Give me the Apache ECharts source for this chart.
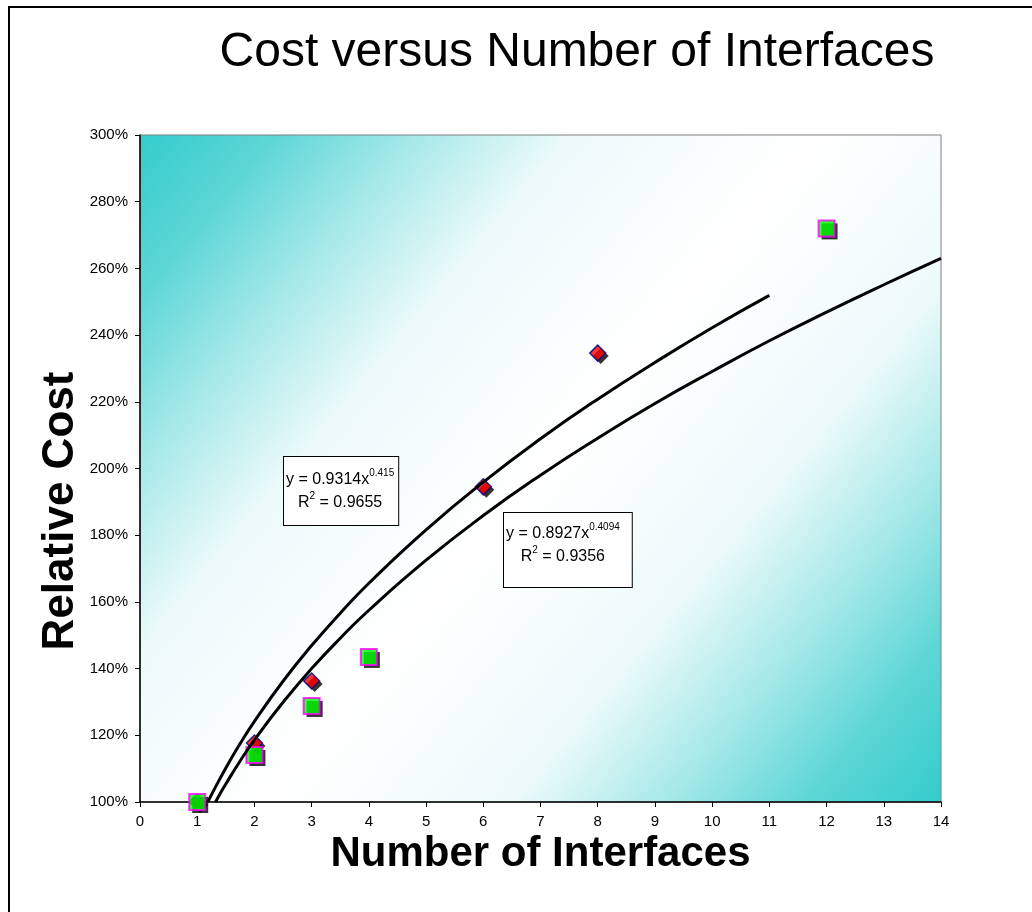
<!DOCTYPE html>
<html>
<head>
<meta charset="utf-8">
<script src="https://cdn.jsdelivr.net/npm/echarts@6/dist/echarts.min.js"></script>
<style>
html,body{margin:0;padding:0;background:#fff;}
#chart{width:1032px;height:912px;}
</style>
</head>
<body>
<div id="chart"></div>
<script>
// Data
var diamondX = [1, 2, 3, 6, 8];
var diamondY = [100, 117.7, 136.3, 194.5, 234.6];
var squareX = [1, 2, 3, 4, 12];
var squareY = [100, 114.1, 128.8, 143.5, 272];
// Trend curves
var trend1X = [1.19, 1.25, 1.5, 1.75, 2, 2.5, 3, 3.5, 4, 5, 6, 7, 8, 9, 10, 11];
var trend1Y = [100.1, 102.2, 110.2, 117.5, 124.2, 136.2, 146.9, 156.6, 165.6, 181.6, 195.9, 208.9, 220.8, 231.8, 242.2, 251.9];
var trend2X = [1.32, 1.4, 1.5, 1.75, 2, 2.5, 3, 3.5, 4, 5, 6, 7, 8, 9, 10, 11, 12, 13, 14];
var trend2Y = [100, 102.5, 105.4, 112.3, 118.6, 129.9, 140.0, 149.1, 157.5, 172.5, 185.9, 198.0, 209.1, 219.5, 229.1, 238.3, 246.9, 255.1, 263.0];
var xTicks = [0, 1, 2, 3, 4, 5, 6, 7, 8, 9, 10, 11, 12, 13, 14];
var yTicks = [100, 120, 140, 160, 180, 200, 220, 240, 260, 280, 300];
var titleText = 'Cost versus Number of Interfaces';
var xName = 'Number of Interfaces';
var yName = 'Relative Cost';
var eq1 = ['y = 0.9314x', '0.415', '0.9655'];
var eq2 = ['y = 0.8927x', '0.4094', '0.9356'];

function pairs(xs, ys) { return xs.map(function (x, i) { return [x, ys[i]]; }); }

var FONT = 'Liberation Sans, Arial, sans-serif';
var chart = echarts.init(document.getElementById('chart'), null, {renderer: 'canvas'});

function eqRich() {
  return {
    a: {fontSize: 16, fontFamily: FONT, color: '#000', lineHeight: 23, align: 'center', verticalAlign: 'middle'},
    s: {fontSize: 10, fontFamily: FONT, color: '#000', lineHeight: 10, align: 'center', verticalAlign: 'top'}
  };
}

var option = {
  animation: false,
  backgroundColor: '#fff',
  title: {
    text: titleText,
    left: 572, top: 24, textAlign: 'center',
    textStyle: {fontFamily: FONT, fontWeight: 'normal', fontSize: 48, color: '#000'}
  },
  grid: {
    left: 140, top: 135, right: 91, bottom: 110,
    show: true,
    borderColor: '#808080', borderWidth: 1,
    backgroundColor: new echarts.graphic.LinearGradient(0, 0, 1, 1, [
      {offset: 0, color: '#33cccc'},
      {offset: 0.1, color: '#5ed6d6'},
      {offset: 0.2, color: '#a4e8e8'},
      {offset: 0.32, color: '#eefafa'},
      {offset: 0.5, color: '#ffffff'},
      {offset: 0.68, color: '#eefafa'},
      {offset: 0.8, color: '#a4e8e8'},
      {offset: 0.9, color: '#5ed6d6'},
      {offset: 1, color: '#33cccc'}
    ])
  },
  xAxis: {
    type: 'value', min: xTicks[0], max: xTicks[xTicks.length - 1], interval: 1,
    name: xName, nameLocation: 'middle', nameGap: 29,
    nameTextStyle: {fontFamily: FONT, fontWeight: 'bold', fontSize: 42, color: '#000', verticalAlign: 'top'},
    axisLine: {show: true, lineStyle: {color: '#000', width: 1.5}},
    axisTick: {show: true, inside: false, length: 5, lineStyle: {color: '#000'}},
    axisLabel: {fontFamily: FONT, fontSize: 15, color: '#000', margin: 12},
    splitLine: {show: false}
  },
  yAxis: {
    type: 'value', min: yTicks[0], max: yTicks[yTicks.length - 1], interval: 20,
    axisLine: {show: true, lineStyle: {color: '#000', width: 1.5}},
    axisTick: {show: true, inside: false, length: 5, lineStyle: {color: '#000'}},
    axisLabel: {fontFamily: FONT, fontSize: 15, color: '#000', margin: 12, formatter: '{value}%'},
    splitLine: {show: false}
  },
  graphic: [
    {
      type: 'rect', z: -10, silent: true,
      shape: {x: 9, y: 7, width: 1100, height: 1000},
      style: {fill: 'none', stroke: '#000', lineWidth: 2}
    },
    {
      type: 'text', z: 100, x: 61, y: 511, rotation: Math.PI / 2,
      style: {text: yName, font: 'bold 44px ' + FONT, fill: '#000', align: 'center', verticalAlign: 'middle'}
    },
    {
      type: 'text', z: 100, x: 284, y: 457,
      style: {
        text: '{a|' + eq1[0] + '}{s|' + eq1[1] + '}\n{a|R}{s|2}{a| = ' + eq1[2] + '}',
        rich: eqRich(), align: 'left', verticalAlign: 'top',
        backgroundColor: '#fff', borderColor: '#000', borderWidth: 1,
        padding: [11, 4, 11, 2]
      }
    },
    {
      type: 'text', z: 100, x: 504, y: 513,
      style: {
        text: '{a|' + eq2[0] + '}{s|' + eq2[1] + '}\n{a|R}{s|2}{a| = ' + eq2[2] + '}',
        rich: eqRich(), align: 'left', verticalAlign: 'top',
        backgroundColor: '#fff', borderColor: '#000', borderWidth: 1,
        padding: [9, 12, 19, 2]
      }
    }
  ],
  series: [
    {
      type: 'scatter', name: 'diamondShadow', z: 2, silent: true,
      data: pairs(diamondX, diamondY),
      symbol: 'diamond', symbolSize: 16, symbolOffset: [3, 3],
      itemStyle: {color: '#000', borderWidth: 0}
    },
    {
      type: 'scatter', name: 'diamonds', z: 3,
      data: pairs(diamondX, diamondY),
      symbol: 'diamond', symbolSize: 16,
      itemStyle: {color: '#ff0000', borderColor: '#000080', borderWidth: 1.5}
    },
    {
      type: 'scatter', name: 'squareShadow', z: 3, silent: true,
      data: pairs(squareX, squareY),
      symbol: 'rect', symbolSize: 16, symbolOffset: [3, 3],
      itemStyle: {color: '#000', borderWidth: 0}
    },
    {
      type: 'scatter', name: 'squares', z: 4,
      data: pairs(squareX, squareY),
      symbol: 'rect', symbolSize: 16,
      itemStyle: {color: '#00ff00', borderColor: '#ff00ff', borderWidth: 2}
    },
    {
      type: 'line', name: 'trend1', z: 5,
      data: pairs(trend1X, trend1Y),
      showSymbol: false, symbol: 'none', smooth: true,
      lineStyle: {color: '#000', width: 3}
    },
    {
      type: 'line', name: 'trend2', z: 5,
      data: pairs(trend2X, trend2Y),
      showSymbol: false, symbol: 'none', smooth: true,
      lineStyle: {color: '#000', width: 3}
    }
  ]
};
chart.setOption(option);
</script>
</body>
</html>
